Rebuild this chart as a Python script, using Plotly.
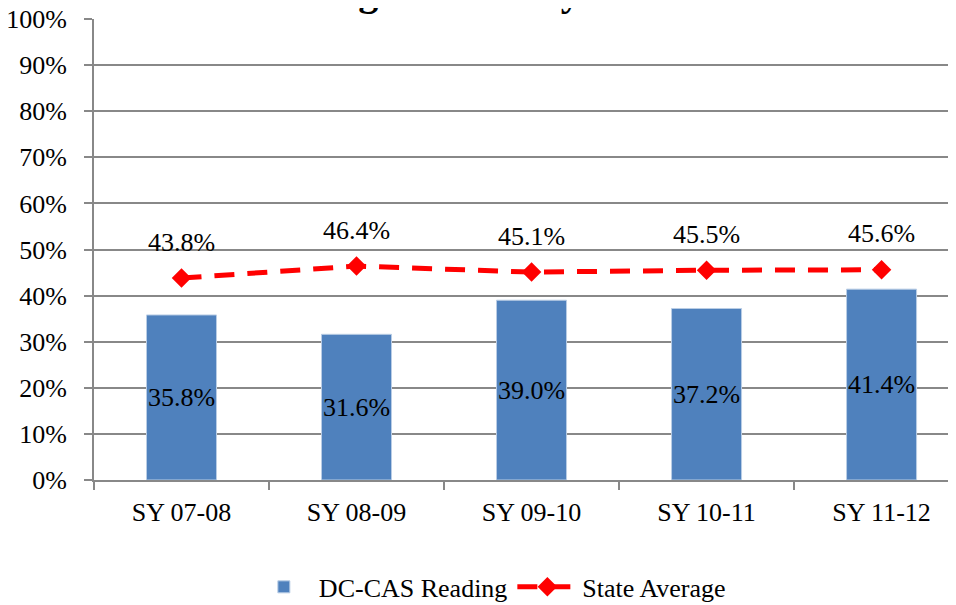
import plotly.graph_objects as go

years = ["SY 07-08", "SY 08-09", "SY 09-10", "SY 10-11", "SY 11-12"]
dc_cas = [35.8, 31.6, 39.0, 37.2, 41.4]
state_avg = [43.8, 46.4, 45.1, 45.5, 45.6]
y_ticks = list(range(0, 101, 10))
y_labels = [f"{v}%" for v in y_ticks]

FONT = "Liberation Serif, Times New Roman, serif"
FS = 26

fig = go.Figure()
fig.add_trace(go.Bar(
    x=years, y=dc_cas, name="DC-CAS Reading",
    marker=dict(color="#4F81BD", line=dict(color="#B9CDE5", width=1)),
    width=0.4,
    text=[f"{v:.1f}%" for v in dc_cas],
    textposition="inside", insidetextanchor="middle", constraintext="none",
    textangle=0,
    textfont=dict(color="black", size=FS, family=FONT),
))
fig.add_trace(go.Scatter(
    x=years, y=state_avg, name="State Average",
    mode="lines+markers",
    line=dict(color="#FF0000", width=5, dash="20px,13px"),
    marker=dict(symbol="diamond", size=15, color="#FF0000"),
))

# etichette della media sopra i marker
for x, v in zip(years, state_avg):
    fig.add_annotation(x=x, y=v, text=f"{v:.1f}%", showarrow=False,
                       yshift=36, font=dict(size=FS, color="black", family=FONT))

# titolo tagliato in alto
fig.add_annotation(xref="paper", yref="paper", x=0.361, y=1, xanchor="center",
                   yanchor="bottom", yshift=3, showarrow=False,
                   text="<b>Reading Proficiency</b>",
                   font=dict(size=40, color="black", family=FONT))

fig.update_layout(
    width=956, height=605,
    margin=dict(l=86, r=0, t=11, b=133),
    plot_bgcolor="white", paper_bgcolor="white",
    font=dict(family=FONT, size=FS, color="black"),
    showlegend=True,
    legend=dict(orientation="h", x=0.455, y=-0.232,
                xanchor="center", yanchor="middle",
                font=dict(size=FS, family=FONT), itemwidth=60),
    xaxis=dict(
        type="category", range=[-0.5, 4.471], automargin=False,
        showline=True, linecolor="#888888", linewidth=2,
        ticks="outside", tickson="boundaries", ticklen=8, tickcolor="#888888",
        tickwidth=2, ticklabelstandoff=8, showgrid=False,
        tickfont=dict(size=FS, family=FONT),
    ),
    yaxis=dict(
        range=[0, 100], tickmode="array", tickvals=y_ticks, ticktext=y_labels,
        automargin=False, ticklabeloverflow="allow",
        showline=True, linecolor="#888888", linewidth=2,
        ticks="outside", ticklen=8, tickcolor="#888888", tickwidth=2,
        showgrid=True, gridcolor="#888888", gridwidth=2,
        ticklabelstandoff=12, zeroline=False,
        tickfont=dict(size=FS, family=FONT),
    ),
)

fig.write_html("out.html")
